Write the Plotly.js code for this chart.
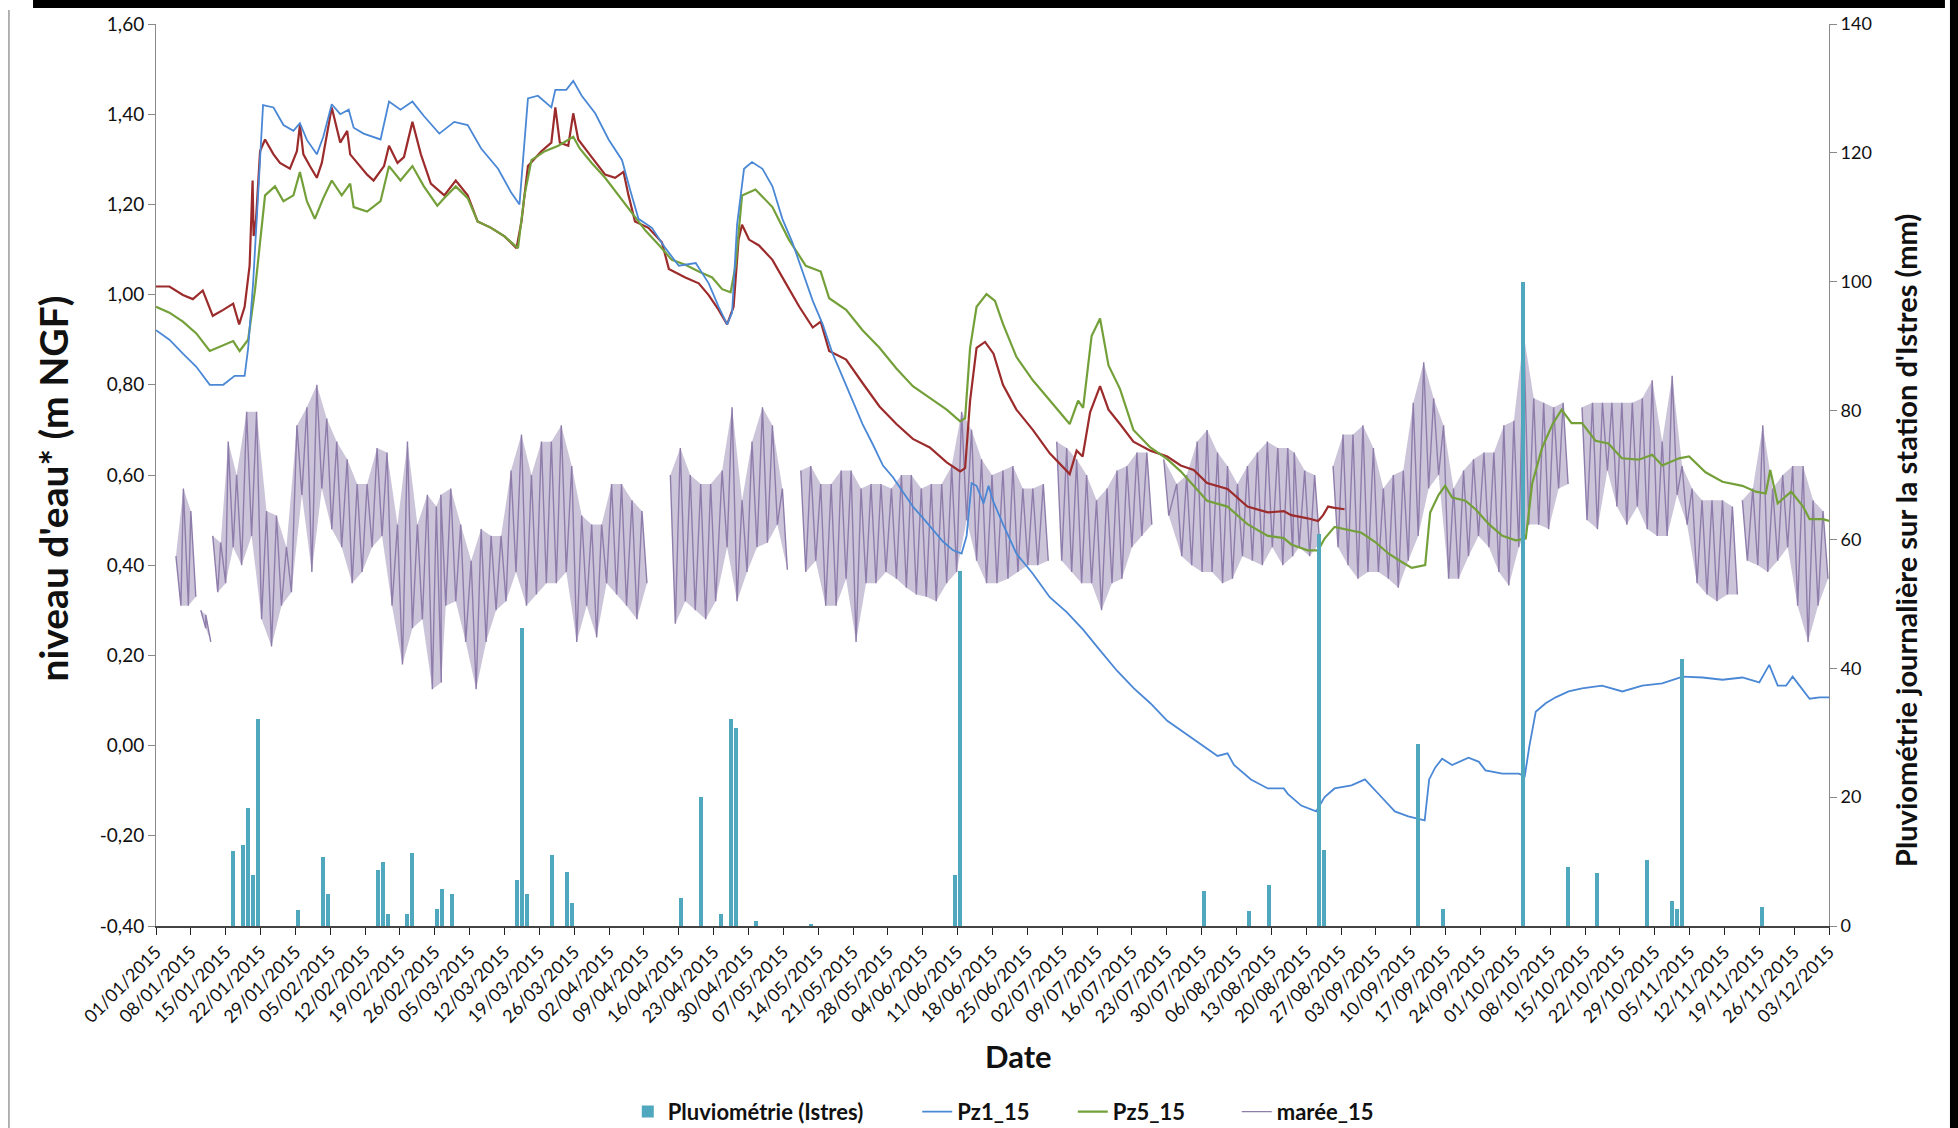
<!DOCTYPE html>
<html>
<head>
<meta charset="utf-8">
<script src="https://cdn.plot.ly/plotly-3.0.1.min.js"></script>
<style>html,body{margin:0;padding:0;background:#fff;}#chart{width:1958px;height:1128px;}</style>
</head>
<body>
<div id="chart"></div>
<script>
// ---------- DATA ----------
// Daily rainfall at Istres (mm)
const rainDates = ['2015-01-16','2015-01-18','2015-01-19','2015-01-20','2015-01-21','2015-01-29','2015-02-03','2015-02-04','2015-02-14','2015-02-15','2015-02-16','2015-02-20','2015-02-21','2015-02-26','2015-02-27','2015-03-01','2015-03-14','2015-03-15','2015-03-16','2015-03-21','2015-03-24','2015-03-25','2015-04-16','2015-04-20','2015-04-24','2015-04-26','2015-04-27','2015-05-01','2015-05-12','2015-06-10','2015-06-11','2015-07-30','2015-08-08','2015-08-12','2015-08-22','2015-08-23','2015-09-11','2015-09-16','2015-10-02','2015-10-11','2015-10-17','2015-10-27','2015-11-01','2015-11-02','2015-11-03','2015-11-19'];
const rainMm = [11.7,12.5,18.3,7.9,32.2,2.5,10.7,4.9,8.7,9.9,1.8,1.8,11.4,2.6,5.8,4.9,7.2,46.3,4.9,11.0,8.4,3.5,4.4,20.0,1.8,32.1,30.7,0.8,0.3,7.9,55.1,5.5,2.3,6.3,60.8,11.8,28.3,2.6,99.9,9.1,8.3,10.2,3.9,2.6,41.4,2.9];

// Left axis tick values and their labels (as printed on the chart)
const levelTickVals = [-0.4,-0.2,0,0.2,0.4,0.6,0.8,1.0,1.2,1.4,1.6];
const levelTickText = ['-0,40','-0,20','0,00','0,20','0,40','0,60','0,80','1,00','1,20','1,40','1,60'];

// Pz1_15 (days since 01/01/2015, m NGF)
const pz1Days = [0,2.7,5.4,8.1,10.8,13.5,15.8,17.8,18.5,19.5,20.5,21.5,23.6,25.6,27.6,28.9,30.3,32.3,33.6,35.3,37,38.7,39.7,41.7,45.1,46.8,49.1,51.5,53.8,56.9,59.9,62.6,65.3,68.7,71.3,73,74.7,76.7,79.4,80.2,82.4,83.8,85.5,88.2,90.9,93.6,95.2,96.9,99.6,102.3,105,108.4,111,113,114.7,115.7,116.7,118.1,119.7,121.8,123.8,125.8,127.8,129.8,131.9,133.9,135.9,137.9,139.9,141.9,144,146,148,150,152,154.1,156.1,158.1,160.1,161.8,162.8,163.8,164.8,166.2,167.2,168.1,170.1,172.8,176.1,179.5,182.9,186.2,189.6,193,196.4,199.7,203.1,206.5,209.8,213.2,215.2,216.5,219.9,223.3,226.5,227.3,230,233,234.7,236.7,240.1,242.8,246.1,248.8,251.5,254.8,255.7,256.9,258.3,260.3,263.6,265.7,267,270.4,273.7,274.9,275.8,277.1,279.1,281.1,283.7,286.4,290.4,294.5,298.5,302.5,306.6,310.6,314.6,318.6,322,324,325.7,327.4,328.7,330.1,332.1,334.1,336];
const pz1Vals = [0.921,0.90,0.869,0.84,0.80,0.80,0.82,0.82,0.88,1.025,1.22,1.42,1.415,1.376,1.363,1.38,1.343,1.311,1.35,1.422,1.40,1.41,1.37,1.357,1.344,1.428,1.41,1.428,1.396,1.357,1.383,1.376,1.324,1.279,1.227,1.20,1.435,1.441,1.415,1.454,1.454,1.474,1.441,1.402,1.344,1.298,1.233,1.168,1.148,1.103,1.064,1.07,1.025,0.973,0.934,0.96,1.155,1.279,1.294,1.279,1.24,1.168,1.116,1.051,0.986,0.934,0.869,0.817,0.765,0.713,0.667,0.621,0.595,0.563,0.53,0.504,0.478,0.452,0.433,0.426,0.465,0.582,0.576,0.537,0.576,0.543,0.491,0.426,0.381,0.329,0.296,0.257,0.211,0.166,0.127,0.094,0.055,0.029,0.003,-0.023,-0.017,-0.043,-0.075,-0.095,-0.095,-0.107,-0.133,-0.146,-0.114,-0.095,-0.088,-0.075,-0.114,-0.146,-0.157,-0.166,-0.075,-0.049,-0.029,-0.043,-0.027,-0.036,-0.055,-0.062,-0.062,-0.068,-0.003,0.075,0.094,0.107,0.12,0.127,0.133,0.12,0.133,0.138,0.153,0.151,0.146,0.151,0.14,0.179,0.133,0.133,0.153,0.133,0.104,0.107,0.107];

// Pz5_15
const pz5Days = [0,2.7,5.4,8.1,10.8,13.5,15.5,16.8,18.5,19.9,20.9,21.9,23.9,25.6,27.6,28.9,30.3,31.9,33.6,35.3,37.3,39,39.7,42.4,45.1,46.8,49.1,51.5,53.8,56.5,57.9,60.2,62.6,64.6,67.3,70,72.7,74,75.4,78.1,80.8,83.8,85.1,87.5,90.2,92.9,95.6,98.3,101,103.6,106.3,109,111.7,113.7,115.4,116.4,117.7,120.4,123.8,127.1,130.5,133.5,135.2,138.6,141.9,145.3,148.7,152,155.4,158.8,161.5,162.5,163.5,164.8,166.8,168.5,170.1,172.8,176.1,179.5,183.5,185.2,186.2,187.9,189.6,191.3,193.6,196.3,199.7,203.1,205.8,208.4,211.1,215.2,219.2,223.3,226.5,228,231.3,233.4,234.7,236.7,239.4,242.1,244.8,247.5,250.2,252.2,254.9,255.9,257.6,258.9,260.3,263,265,267.7,270.4,273.1,275.1,276.4,278.4,280.5,282.3,284.3,286.4,289.1,291.7,294.4,297.8,300.5,302.5,305.9,307.9,311.2,314.6,318.6,321.3,323.3,324.2,325.7,328.4,330.8,332.1,334.8,336];
const pz5Vals = [0.973,0.96,0.94,0.914,0.875,0.888,0.897,0.875,0.90,1.012,1.116,1.22,1.24,1.207,1.22,1.272,1.207,1.168,1.214,1.253,1.22,1.246,1.194,1.184,1.207,1.285,1.253,1.285,1.24,1.197,1.214,1.24,1.214,1.162,1.148,1.129,1.103,1.22,1.298,1.318,1.33,1.35,1.324,1.292,1.259,1.22,1.181,1.142,1.11,1.077,1.066,1.051,1.038,1.012,1.005,1.064,1.22,1.233,1.194,1.122,1.064,1.051,0.992,0.966,0.921,0.882,0.836,0.797,0.771,0.745,0.719,0.726,0.882,0.973,1.001,0.986,0.935,0.862,0.81,0.765,0.713,0.765,0.749,0.908,0.947,0.843,0.791,0.70,0.661,0.635,0.608,0.576,0.543,0.53,0.491,0.465,0.46,0.446,0.433,0.433,0.459,0.485,0.478,0.472,0.452,0.426,0.407,0.394,0.40,0.517,0.556,0.576,0.55,0.543,0.524,0.491,0.465,0.455,0.459,0.582,0.661,0.713,0.745,0.715,0.715,0.676,0.67,0.637,0.634,0.645,0.621,0.637,0.641,0.606,0.585,0.576,0.563,0.559,0.611,0.537,0.563,0.53,0.502,0.502,0.498];

// Third piezometer (dark red, not in legend)
const pzRedDays = [0,2.7,5.4,7.4,9.4,11.4,13.5,15.5,16.7,17.8,18.8,19.4,19.6,20.1,20.9,21.9,23.6,24.9,26.9,28.3,28.9,29.6,30.9,32.3,33.3,35.3,37,38.4,39,40.4,42.4,43.7,45.8,46.8,48.5,49.8,51.5,53.2,55.2,57.9,60.2,62.6,64.6,67.3,70,72.4,73.4,74.7,77.4,79.4,80.2,81.1,82.8,83.8,84.8,87.5,90.2,92.2,93.9,94.9,96.2,98.9,101.6,103,106.3,109,111,113,114.7,116,117,117.7,119.1,121.1,123.8,126.5,129.2,131.9,133.5,135.2,138.6,141.9,145.3,148.7,152,155.4,158.8,161.5,162.5,163.5,164.8,166.5,168.2,170.1,172.8,176.1,179.5,183.5,184.9,186.1,187.6,189.6,191.3,193.6,196.3,199.7,203.1,205.8,208.4,211.1,215.2,219.2,223.3,226.5,228,231.3,233.4,234.4,235.4,236.7,238.7];
const pzRedVals = [1.018,1.018,0.999,0.99,1.009,0.953,0.966,0.98,0.934,0.973,1.064,1.253,1.13,1.168,1.318,1.344,1.311,1.292,1.279,1.318,1.376,1.311,1.285,1.259,1.292,1.415,1.337,1.363,1.311,1.292,1.266,1.253,1.285,1.33,1.292,1.305,1.383,1.311,1.246,1.22,1.253,1.22,1.162,1.148,1.129,1.103,1.162,1.285,1.318,1.337,1.415,1.337,1.33,1.402,1.344,1.305,1.266,1.259,1.272,1.22,1.162,1.148,1.116,1.057,1.038,1.025,0.999,0.966,0.934,0.973,1.122,1.155,1.122,1.109,1.077,1.025,0.973,0.927,0.94,0.875,0.856,0.804,0.752,0.713,0.68,0.661,0.628,0.608,0.615,0.765,0.882,0.895,0.869,0.80,0.745,0.70,0.648,0.602,0.654,0.641,0.739,0.797,0.745,0.713,0.674,0.654,0.641,0.621,0.611,0.582,0.569,0.53,0.517,0.52,0.511,0.504,0.498,0.511,0.53,0.527,0.524];

// marée_15: tidal range read per ~2-day window (start day, high, low); null = no record
const mareeDays = [4,5.5,7,8,9,10,11,11.4,13,14.5,16.2,18.2,20.2,22.2,24.2,26.2,28.3,30.3,32.3,34.3,36.3,38.4,40.4,42.4,44.4,46.4,48.5,50.5,52.5,54.5,56.3,57.2,59.2,61.2,63.3,65.3,67.3,69.3,71.3,73.4,75.4,77.4,79.4,81.4,83.5,85.5,87.5,89.5,91.5,93.5,95.6,97.6,99.6,103.3,105.3,107.3,109.4,111.4,113.7,115.7,117.7,119.7,121.8,123.8,125.8,127,129.5,131.5,133.5,135.6,137.6,139.6,141.6,143.6,145.6,147.7,149.7,151.7,153.7,155.7,157.8,159.8,161.8,163.8,165.8,167.9,170.1,172.1,174.1,176.1,178.2,179.5,180.9,182.9,184.9,186.9,188.9,191,193,195,197,199,201.7,202.4,205,207,209.1,211.1,213.2,215.2,217.2,219.2,221.2,223.2,225.3,227.3,228.6,230.7,232.7,234.4,236.4,238.4,240.4,242.4,244.5,246.5,248.5,250.5,252.5,254.6,256.6,258.6,260.6,262.6,264.6,266.7,268.7,270.7,272.7,274.7,276.7,278.7,280.7,282.6,284.4,286.4,288.5,290.5,292.4,294.4,296.5,298.5,300.5,302.5,304.5,306.5,308.5,310.5,312.5,314.6,316.6,318.3,318.6,320.7,322.7,324.7,326.7,328.7,330.8,332.8,334.8];
const mareeHi = [0.42,0.57,0.52,null,0.30,0.29,null,0.465,0.45,0.674,0.60,0.74,0.74,0.52,0.51,0.44,0.71,0.75,0.80,0.725,0.674,0.635,0.58,0.58,0.66,0.65,0.49,0.674,0.49,0.556,0.53,0.556,0.57,0.49,0.41,0.48,0.465,0.465,0.61,0.69,0.60,0.674,0.674,0.71,0.62,0.51,0.49,0.49,0.58,0.58,0.544,0.52,null,0.60,0.66,0.60,0.58,0.58,0.61,0.75,0.544,0.674,0.75,0.71,0.57,null,0.61,0.62,0.58,0.58,0.61,0.61,0.57,0.58,0.58,0.57,0.60,0.60,0.57,0.58,0.58,0.62,0.74,0.70,0.635,0.60,0.61,0.62,0.57,0.57,0.58,null,0.674,0.66,0.635,0.60,0.544,0.57,0.61,0.62,0.65,0.65,null,0.635,0.58,0.60,0.674,0.70,0.65,0.62,0.58,0.62,0.65,0.674,0.66,0.66,0.65,0.61,0.60,null,0.62,0.69,0.69,0.71,0.66,0.57,0.60,0.61,0.76,0.85,0.77,0.71,0.57,0.61,0.635,0.65,0.65,0.71,0.72,0.91,0.77,0.76,0.75,0.76,null,0.75,0.76,0.76,0.76,0.76,0.76,0.77,0.81,0.674,0.82,0.62,0.57,0.544,0.544,0.544,0.53,null,0.544,0.57,0.71,0.57,0.60,0.62,0.62,0.544,0.52];
const mareeLo = [0.31,0.31,0.33,null,0.26,0.23,null,0.34,0.36,0.44,0.40,0.465,0.28,0.22,0.31,0.34,0.556,0.385,0.57,0.48,0.44,0.36,0.385,0.44,0.465,0.31,0.18,0.26,0.28,0.125,0.14,0.31,0.32,0.23,0.125,0.23,0.30,0.32,0.385,0.31,0.335,0.36,0.36,0.385,0.23,0.31,0.24,0.36,0.335,0.31,0.28,0.36,null,0.27,0.32,0.30,0.28,0.32,0.44,0.32,0.385,0.44,0.45,0.49,0.39,null,0.385,0.41,0.31,0.31,0.37,0.23,0.36,0.36,0.385,0.37,0.35,0.335,0.33,0.32,0.36,0.385,0.50,0.41,0.36,0.36,0.37,0.385,0.40,0.40,0.41,null,0.41,0.385,0.36,0.36,0.30,0.36,0.37,0.44,0.465,0.49,null,0.51,0.42,0.40,0.385,0.385,0.36,0.37,0.42,0.41,0.40,0.44,0.40,0.42,0.44,0.42,0.45,null,0.44,0.40,0.37,0.385,0.385,0.37,0.35,0.41,0.465,0.57,0.60,0.37,0.37,0.42,0.465,0.44,0.385,0.355,0.44,0.49,0.49,0.48,0.57,0.58,null,0.50,0.48,0.61,0.53,0.49,0.53,0.48,0.465,0.465,0.556,0.49,0.36,0.335,0.32,0.335,0.335,null,0.41,0.40,0.385,0.41,0.44,0.31,0.23,0.31,0.37];

// ---------- helpers ----------
const DAY = 86400000;
const T0 = Date.UTC(2015, 0, 1);
function dayToDate(d) { return new Date(T0 + d * DAY).toISOString().slice(0, 19).replace('T', ' '); }

// tide: high/low zig-zag through the windows, plus a light band per continuous stretch
const mx = [], my = [];
const bx = [], by = [];
let seg = [];
function flushSeg() {
  if (!seg.length) return;
  seg.forEach(i => { bx.push(dayToDate(mareeDays[i])); by.push(mareeHi[i]); });
  seg.slice().reverse().forEach(i => { bx.push(dayToDate(mareeDays[i] + 1)); by.push(mareeLo[i]); });
  bx.push(dayToDate(mareeDays[seg[0]])); by.push(mareeHi[seg[0]]);
  bx.push(null); by.push(null);
  seg = [];
}
for (let i = 0; i < mareeDays.length; i++) {
  if (mareeHi[i] === null) { mx.push(dayToDate(mareeDays[i])); my.push(null); flushSeg(); continue; }
  mx.push(dayToDate(mareeDays[i]));       my.push(mareeHi[i]);
  mx.push(dayToDate(mareeDays[i] + 1));   my.push(mareeLo[i]);
  seg.push(i);
}
flushSeg();

const FONT = 'Lato, "Open Sans", sans-serif';
const LEGFONT = 'Lato, "Open Sans", sans-serif';
const PURPLE = '#8e7dab';

const traces = [
  {
    type: 'scatter', mode: 'lines', name: 'marée_15 (bande)', x: bx, y: by,
    fill: 'toself', fillcolor: 'rgba(142,125,171,0.45)', line: {width: 0, color: PURPLE},
    connectgaps: false, showlegend: false, hoverinfo: 'skip'
  },
  {
    type: 'scatter', mode: 'lines', name: 'marée_15', x: mx, y: my,
    line: {color: PURPLE, width: 1.4}, connectgaps: false, legend: 'legend4'
  },
  {
    type: 'scatter', mode: 'lines', name: 'Pz_rouge', x: pzRedDays.map(dayToDate), y: pzRedVals,
    line: {color: '#9c2b2c', width: 2.2}, showlegend: false
  },
  {
    type: 'scatter', mode: 'lines', name: 'Pz5_15', x: pz5Days.map(dayToDate), y: pz5Vals,
    line: {color: '#74a03a', width: 2.2}, legend: 'legend3'
  },
  {
    type: 'scatter', mode: 'lines', name: 'Pz1_15', x: pz1Days.map(dayToDate), y: pz1Vals,
    line: {color: '#4a88d6', width: 1.8}, legend: 'legend2'
  },
  {
    type: 'bar', name: 'Pluviométrie (Istres)', x: rainDates, y: rainMm, yaxis: 'y2',
    xperiod: DAY, xperiodalignment: 'middle',
    width: 0.8 * DAY, marker: {color: '#4fa8bd', line: {width: 0}}, legend: 'legend'
  }
];

const legFont = {family: LEGFONT, size: 22, color: '#111', weight: 'bold'};
function leg(x) {
  return {orientation: 'h', x: x, xanchor: 'left', y: -0.206, yanchor: 'middle',
          font: legFont, itemwidth: 30, bgcolor: 'rgba(0,0,0,0)', borderwidth: 0};
}

const layout = {
  width: 1958, height: 1128,
  paper_bgcolor: '#ffffff', plot_bgcolor: '#ffffff',
  margin: {l: 156, r: 129, t: 24, b: 202, autoexpand: false},
  separators: ',.',
  font: {family: FONT, color: '#222'},
  showlegend: true,
  bargap: 0,
  legend: leg(0.282),
  legend2: leg(0.455),
  legend3: leg(0.548),
  legend4: leg(0.646),
  xaxis: {
    type: 'date', automargin: false,
    range: ['2015-01-01', '2015-12-03'],
    tick0: '2015-01-01', dtick: 7 * DAY,
    tickformat: '%d/%m/%Y', tickangle: -45,
    tickfont: {family: FONT, size: 18, color: '#111'},
    ticks: 'outside', ticklen: 7, tickcolor: '#222', tickwidth: 1,
    showline: true, linecolor: '#444', linewidth: 1.5,
    showgrid: false, zeroline: false,
    title: {text: ''}
  },
  yaxis: {
    automargin: false,
    range: [-0.4, 1.6], tickmode: 'array', tickvals: levelTickVals, ticktext: levelTickText,
    tickfont: {family: FONT, size: 19, color: '#111'},
    ticks: 'outside', ticklen: 7, tickcolor: '#888',
    showline: true, linecolor: '#8a8a8a', linewidth: 1,
    showgrid: false, zeroline: false,
    title: {text: ''}
  },
  yaxis2: {
    automargin: false,
    overlaying: 'y', side: 'right', range: [0, 140], dtick: 20,
    tickfont: {family: FONT, size: 18, color: '#111'},
    ticks: 'outside', ticklen: 7, tickcolor: '#888',
    showline: true, linecolor: '#8a8a8a', linewidth: 1,
    showgrid: false, zeroline: false,
    title: {text: ''}
  },
  annotations: [
    {text: 'Date', xref: 'paper', yref: 'paper', x: 0.5158, y: -0.144, xanchor: 'center', yanchor: 'middle',
     showarrow: false, font: {family: FONT, size: 31, color: '#111', weight: 'bold'}},
    {text: "niveau d'eau* (m NGF)", xref: 'paper', yref: 'paper', x: -0.0618, y: 0.4845, xanchor: 'center', yanchor: 'middle',
     textangle: -90, showarrow: false, font: {family: FONT, size: 39, color: '#111', weight: 'bold'}},
    {text: "Pluviométrie journalière sur la station d'Istres (mm)", xref: 'paper', yref: 'paper', x: 1.046, y: 0.428,
     xanchor: 'center', yanchor: 'middle', textangle: -90, showarrow: false,
     font: {family: FONT, size: 29, color: '#111', weight: 'bold'}}
  ],
  shapes: [
    {type: 'rect', xref: 'paper', yref: 'paper', x0: -0.0735, x1: 1.0693, y0: 1.0177, y1: 1.03, fillcolor: '#000', line: {width: 0}, layer: 'above'},
    {type: 'line', xref: 'paper', yref: 'paper', x0: -0.0879, x1: -0.0879, y0: 1.0155, y1: -0.25, line: {color: '#9a9a9a', width: 1.5}},
    {type: 'rect', xref: 'paper', yref: 'paper', x0: 1.0723, x1: 1.08, y0: -0.25, y1: 1.03, fillcolor: '#000', line: {width: 0}}
  ]
};

Plotly.newPlot('chart', traces, layout, {displayModeBar: false, staticPlot: true});
</script>
</body>
</html>
